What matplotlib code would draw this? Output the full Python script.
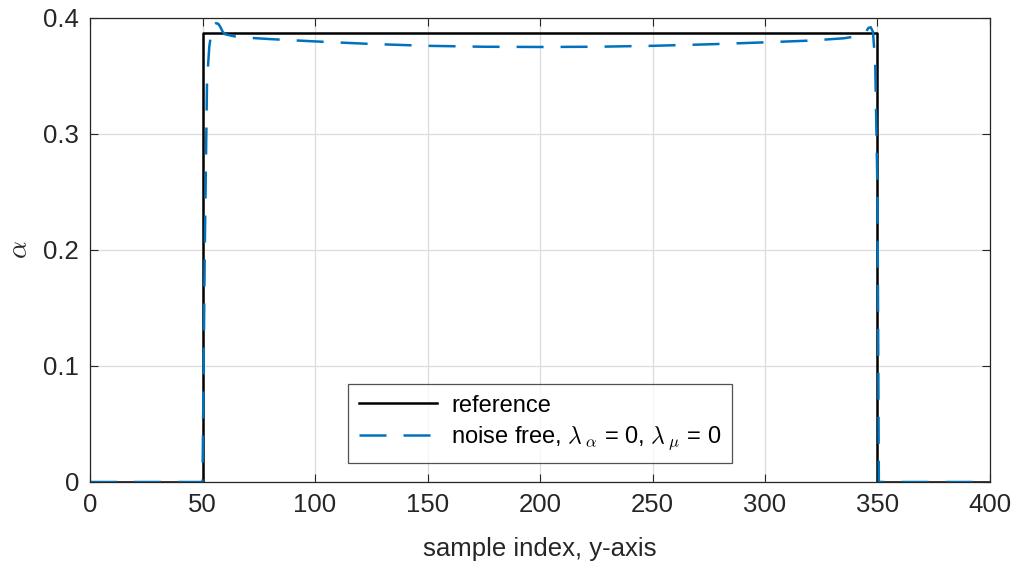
import matplotlib.pyplot as plt

plt.rcParams['font.family'] = ['Liberation Sans', 'DejaVu Sans']
plt.rcParams['mathtext.fontset'] = 'cm'

# reference profile (step)
ref_x = [0, 50, 50, 350, 350, 400]
ref_y = [0, 0, 0.387, 0.387, 0, 0]

# reconstruction, noise free
est_x = [0, 50, 51, 52, 53, 54, 55, 56, 57, 58, 59, 60, 65, 70, 80, 100, 125,
         150, 175, 200, 225, 250, 275, 300, 320, 335, 340, 343, 345, 346,
         347, 348, 349, 350, 350.6, 352, 400]
est_y = [0, 0, 0.20, 0.345, 0.375, 0.389, 0.394, 0.3955, 0.395, 0.392, 0.388,
         0.386, 0.3838, 0.3830, 0.3818, 0.3798, 0.3776, 0.3760, 0.3752,
         0.3750, 0.3752, 0.3760, 0.3773, 0.3790, 0.3805, 0.3825, 0.3840,
         0.3855, 0.3885, 0.3915, 0.3920, 0.388, 0.36, 0.25, 0, 0, 0]

xticks = [0, 50, 100, 150, 200, 250, 300, 350, 400]
yticks = [0, 0.1, 0.2, 0.3, 0.4]

fig = plt.figure(figsize=(10.16, 5.69), dpi=100)
ax = fig.add_axes([0.0886, 0.1529, 0.8858, 0.8155])

ax.plot(ref_x, ref_y, color='black', lw=1.8, label='reference')
ax.plot(est_x, est_y, color='#0072BD', lw=1.8, dashes=(10.8, 6.8),
        label=r'noise free, $\lambda_{\;\alpha}$ = 0, $\lambda_{\;\mu}$ = 0')

ax.set_xlim(0, 400)
ax.set_ylim(0, 0.4)
ax.set_xticks(xticks)
ax.set_yticks(yticks)
ax.set_xticklabels([str(t) for t in xticks])
ax.set_yticklabels(['0', '0.1', '0.2', '0.3', '0.4'])
ax.tick_params(direction='in', top=True, right=True, labelsize=18.5,
               length=6, width=0.8, colors='#262626', pad=8)
for s in ax.spines.values():
    s.set_color('#262626')
    s.set_linewidth(0.9)
ax.grid(True, color='#dcdcdc', lw=0.9)
ax.set_axisbelow(True)

ax.set_xlabel('sample index, y-axis', fontsize=18.5, color='#262626', labelpad=14)
ax.set_ylabel(r'$\alpha$', fontsize=20, color='#262626', labelpad=7)

leg = ax.legend(loc='lower center', bbox_to_anchor=(0.5, 0.041),
                borderaxespad=0, fontsize=17, frameon=True, fancybox=False,
                handlelength=3.3, borderpad=0.45, labelspacing=0.35,
                handletextpad=0.6)
leg.get_frame().set_edgecolor('#262626')
leg.get_frame().set_linewidth(0.9)

fig.savefig('out.png', dpi=100)
